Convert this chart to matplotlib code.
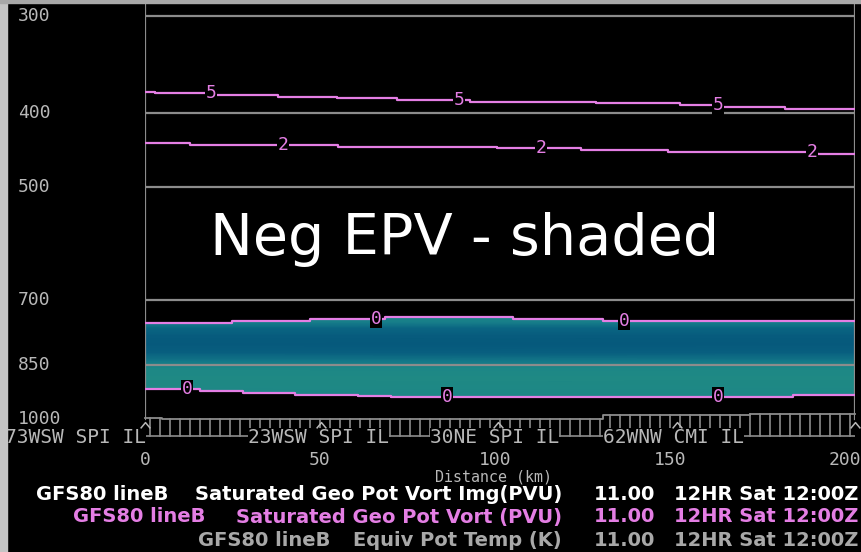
import numpy as np
import matplotlib
matplotlib.use("Agg")
import matplotlib.pyplot as plt
from matplotlib.patches import Polygon, Rectangle
from matplotlib.path import Path
from matplotlib.colors import LinearSegmentedColormap

# ---- data (km along line, pressure hPa) ----
p_levels = [300, 400, 500, 700, 850, 1000]
dist_ticks = [0, 50, 100, 150, 200]

# contour of saturated geo pot vort = 5 PVU
pv5_km = [0, 2.9, 19, 38, 55, 72, 93, 129, 153, 164, 183, 203]
pv5_p = [375.9, 377.7, 379.6, 381.5, 383.4, 385.3, 387.3, 389.1, 391.6, 393.4, 395.4, 395.4]
pv5_lab_km = [18.9, 89.7, 163.7]

# 2 PVU
pv2_km = [0, 12.9, 55.1, 100.6, 124.6, 149.4, 192, 203]
pv2_p = [438.5, 440.7, 443.0, 445.1, 447.7, 450.4, 452.7, 452.7]
pv2_lab_km = [39.4, 113.1, 190.6]

# 0 PVU upper and lower edge of the negative area
pv0u_km = [0, 24.9, 47.1, 68.6, 105.1, 130.9, 203]
pv0u_p = [749.0, 744.6, 740.8, 735.7, 740.2, 744.6, 744.6]
pv0u_lab_km = [66.0, 136.9]

pv0l_km = [0, 15.7, 28.0, 42.9, 60.9, 70.3, 185.1, 203]
pv0l_p = [913.8, 918.4, 923.9, 929.5, 931.4, 934.5, 930.3, 930.3]
pv0l_lab_km = [12.0, 86.3, 163.7]

# neg EPV shading strength by level (0 = weak, 1 = strong)
shade_p = [735, 748, 762, 780, 800, 820, 840, 858, 885, 910, 936]
shade_v = [0.20, 0.35, 0.70, 0.95, 1.00, 0.85, 0.45, 0.15, 0.08, 0.12, 0.20]

# terrain along the line
terrain_km = [0, 5, 131, 173, 203]
terrain_p = [996, 999, 987, 983, 983]

stations = ["73WSW SPI IL", "23WSW SPI IL", "30NE SPI IL", "62WNW CMI IL"]
station_km = [-40.0, 29.4, 81.4, 130.9]
marker_km = [0, 50.3, 101, 152, 203]

legend_rows = [
    ("GFS80 lineB", "Saturated Geo Pot Vort Img(PVU)", "#ffffff"),
    ("GFS80 lineB", "Saturated Geo Pot Vort (PVU)", "#e47ee4"),
    ("GFS80 lineB", "Equiv Pot Temp (K)", "#a8a8a8"),
]
valid = ("11.00", "12HR Sat 12:00Z")

# ---- style ----
W, H = 861, 552
GRID = "#8c8c8c"
TXT = "#b8b8b8"
PV = "#e47ee4"
MONO = "DejaVu Sans Mono"

fig = plt.figure(figsize=(W / 100, H / 100), dpi=100, facecolor="black")
ax = fig.add_axes([145 / W, (H - 437) / H, 710 / W, 433 / H])
ax.set_facecolor("black")
ax.set_yscale("log")
ax.set_xlim(0, 202.9)
ax.set_ylim(1054, 289.3)
for s in ax.spines.values():
    s.set_visible(False)
ax.set_yticks([])
ax.minorticks_off()


def step_xy(xs, ys):
    vx, vy = [xs[0]], [ys[0]]
    for i in range(1, len(xs)):
        vx += [xs[i], xs[i]]
        vy += [ys[i - 1], ys[i]]
    return np.array(vx), np.array(vy)


# shading between the two zero lines
cmap = LinearSegmentedColormap.from_list("epv", ["#218c82", "#18808a", "#0b6683", "#06597c"])
xg, pg = np.meshgrid([0, 202.9], shade_p)
cg = np.repeat(np.array(shade_v)[:, None], 2, axis=1)
mesh = ax.pcolormesh(xg, pg, cg, cmap=cmap, vmin=0, vmax=1, shading="gouraud", zorder=1)
ux, uy = step_xy(pv0u_km, pv0u_p)
lx, ly = step_xy(pv0l_km, pv0l_p)
verts = np.vstack([np.column_stack([ux, uy]), np.column_stack([lx[::-1], ly[::-1]])])
clip = Polygon(verts, closed=True, facecolor="none", edgecolor="none", transform=ax.transData)
ax.add_patch(clip)
mesh.set_clip_path(clip)

# pressure grid lines and frame
for p in p_levels[:-1]:
    ax.axhline(p, color=GRID, lw=1.6, zorder=2)
ax.plot([0, 0], [289.3, 1000], color=GRID, lw=1.6, zorder=2)
ax.plot([202.9, 202.9], [289.3, 1000], color=GRID, lw=1.6, zorder=2)

# contours with labels
for kms, ps, labs, txt in [(pv5_km, pv5_p, pv5_lab_km, "5"), (pv2_km, pv2_p, pv2_lab_km, "2"),
                           (pv0u_km, pv0u_p, pv0u_lab_km, "0"), (pv0l_km, pv0l_p, pv0l_lab_km, "0")]:
    ax.plot(kms, ps, drawstyle="steps-post", color=PV, lw=1.6, zorder=3)
    for k in labs:
        i = np.searchsorted(kms, k, side="right") - 1
        ax.text(k, ps[i], txt, color=PV, fontsize=13, family=MONO, ha="center", va="center", zorder=4,
                bbox=dict(facecolor="black", edgecolor="none", pad=0.2))

# terrain comb
tx, ty = step_xy(terrain_km, terrain_p)
ax.plot(tx, ty, color=GRID, lw=1.3, zorder=2, clip_on=False)
for k in np.arange(1.4, 202.9, 2.86):
    i = np.searchsorted(terrain_km, k, side="right") - 1
    ax.plot([k, k], [terrain_p[i], 1050], color=GRID, lw=1.2, zorder=2)
ax.plot([0, 202.9], [1050, 1050], color=GRID, lw=1.2, zorder=2)

# station carets
caret = Path([(-1, -0.6), (0, 0.6), (1, -0.6)], [Path.MOVETO, Path.LINETO, Path.LINETO])
ax.plot(marker_km, [1018] * len(marker_km), ls="none", marker=caret, ms=7, mfc="none",
        mec=TXT, mew=1.1, zorder=6, clip_on=False)
for name, k in zip(stations, station_km):
    ax.text(k, 1054, name, color=TXT, fontsize=14, family=MONO, ha="left", va="center",
            zorder=5, clip_on=False, bbox=dict(facecolor="black", edgecolor="none", pad=0.0))

# axis labels
for p in p_levels:
    ax.text(-0.179, p, str(p), transform=ax.get_yaxis_transform(), color=TXT, fontsize=13,
            family=MONO, ha="left", va="center", clip_on=False)
ax.set_xticks(dist_ticks)
ax.set_xticklabels([str(d) for d in dist_ticks], color=TXT, fontsize=13, family=MONO)
ax.tick_params(axis="x", length=0, pad=10)
fig.text(494 / W, 1 - 477.5 / H, "Distance (km)", color=TXT, fontsize=10.8, family=MONO,
         ha="center", va="center")

# big annotation
fig.text(210 / W, 1 - 255 / H, "Neg EPV - shaded", color="white", fontsize=41.3,
         family="DejaVu Sans", ha="left", va="baseline")

# legend rows at bottom
row_y = [495, 517, 540]
left_end = [168, 205, 330]
for (src, field, col), y, le in zip(legend_rows, row_y, left_end):
    kw = dict(color=col, fontsize=14, family="DejaVu Sans", weight="bold", va="center")
    fig.text(le / W, 1 - y / H, src, ha="right", **kw)
    fig.text(562 / W, 1 - y / H, field, ha="right", **kw)
    fig.text(655 / W, 1 - y / H, valid[0], ha="right", **kw)
    fig.text(858 / W, 1 - y / H, valid[1], ha="right", **kw)

# window edges of the screen grab
fig.patches.append(Rectangle((0, 0), 7 / W, 1, transform=fig.transFigure, color="#c4c4c4", zorder=0))
fig.patches.append(Rectangle((0, 1 - 3 / H), 1, 3 / H, transform=fig.transFigure, color="#a8a8a8", zorder=0))

fig.savefig("out.png", dpi=100, facecolor="black")
